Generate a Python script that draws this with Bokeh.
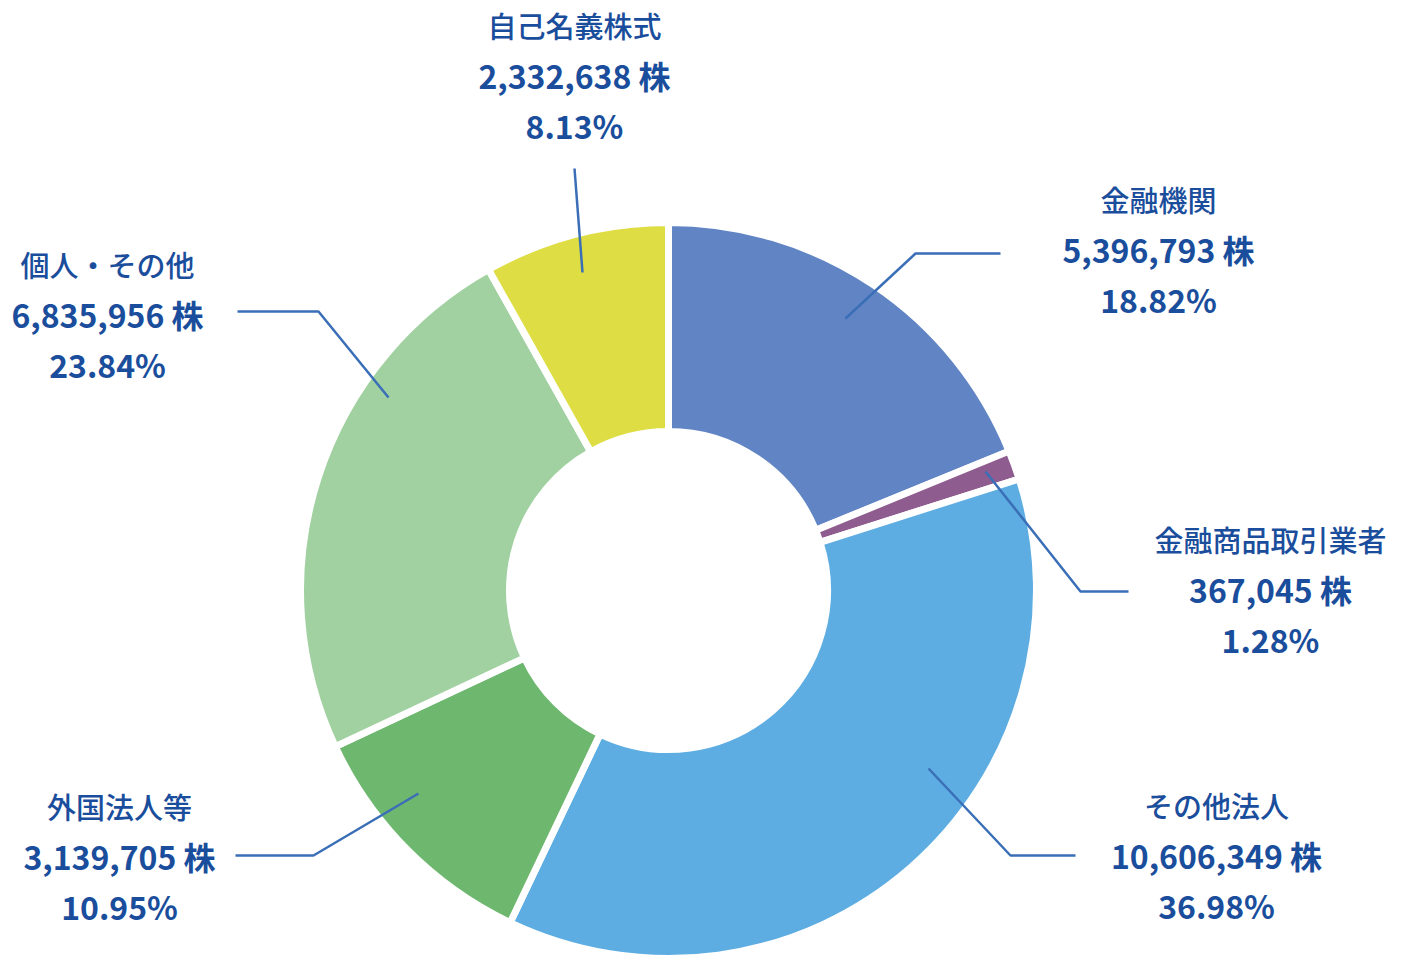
from bokeh.plotting import figure
from bokeh.models import Range1d, ColumnDataSource
from bokeh.core.properties import value
from bokeh.embed import file_html
from bokeh.resources import INLINE
import math

# ---- data ----
categories = ["金融機関", "金融商品取引業者", "その他法人", "外国法人等", "個人・その他", "自己名義株式"]
shares = [5396793, 367045, 10606349, 3139705, 6835956, 2332638]
percents = [18.82, 1.28, 36.98, 10.95, 23.84, 8.13]
colors = ["#6185C4", "#8E5C8E", "#5DADE2", "#6EB76F", "#A1D1A1", "#DEDE44"]

# ---- layout (screen pixel positions; data y = 976 - screen y) ----
W, H = 1394, 960
CX, CY = 668, 590
R_OUT, R_IN = 368, 159
label_pos = [(1158, 198), (1270, 538), (1216, 804), (119, 805), (107, 263), (574, 24)]
leaders = [[(845, 318), (915, 253), (1000, 253)],
           [(985, 471), (1080, 591), (1128, 591)],
           [(928, 768), (1010, 855), (1075, 855)],
           [(418, 793), (313, 855), (235, 855)],
           [(388, 397), (318, 311), (237, 311)],
           [(582, 272), (574, 168)]]
TEXT_COLOR = "#1A4E9C"
LINE_COLOR = "#3A6FB7"
FONT_NAME = "'Noto Sans CJK JP Medium', 'Noto Sans CJK JP'"
FONT_NUM = "Noto Sans CJK JP"

def sy(y):
    return 976 - y

total = sum(shares)
starts, ends = [], []
acc = 0.0
for s in shares:
    starts.append(math.pi / 2 - 2 * math.pi * acc / total)
    acc += s
    ends.append(math.pi / 2 - 2 * math.pi * acc / total)

p = figure(width=W, height=H, x_range=Range1d(0, W), y_range=Range1d(976 - H, 976),
           output_backend="svg", toolbar_location=None, min_border=0,
           x_axis_type=None, y_axis_type=None)
p.grid.visible = False
p.outline_line_color = None
p.background_fill_color = "white"
p.border_fill_color = "white"

src = ColumnDataSource(dict(start=starts, end=ends, color=colors,
                            x=[CX] * len(shares), y=[sy(CY)] * len(shares)))
p.annular_wedge(x="x", y="y", inner_radius=R_IN, outer_radius=R_OUT,
                start_angle="start", end_angle="end", direction="clock",
                fill_color="color", line_color="white", line_width=7, source=src)

# leader lines
for pts in leaders:
    p.line([q[0] for q in pts], [sy(q[1]) for q in pts], line_color=LINE_COLOR, line_width=2.5)

# labels
amt_txt = [f"{s:,} 株" for s in shares]
pct_txt = [f"{v:.2f}%" for v in percents]
lx = [q[0] for q in label_pos]
p.text(lx, [sy(q[1]) for q in label_pos], text=categories, text_font=value(FONT_NAME),
       text_font_size="29px", text_color=TEXT_COLOR, text_align="center", text_baseline="middle")
p.text(lx, [sy(q[1] + 50) for q in label_pos], text=amt_txt, text_font=value(FONT_NUM),
       text_font_size="32px", text_font_style="bold", text_color=TEXT_COLOR,
       text_align="center", text_baseline="middle")
p.text(lx, [sy(q[1] + 100) for q in label_pos], text=pct_txt, text_font=value(FONT_NUM),
       text_font_size="32px", text_font_style="bold", text_color=TEXT_COLOR,
       text_align="center", text_baseline="middle")

open("out.html", "w").write(file_html(p, INLINE))
